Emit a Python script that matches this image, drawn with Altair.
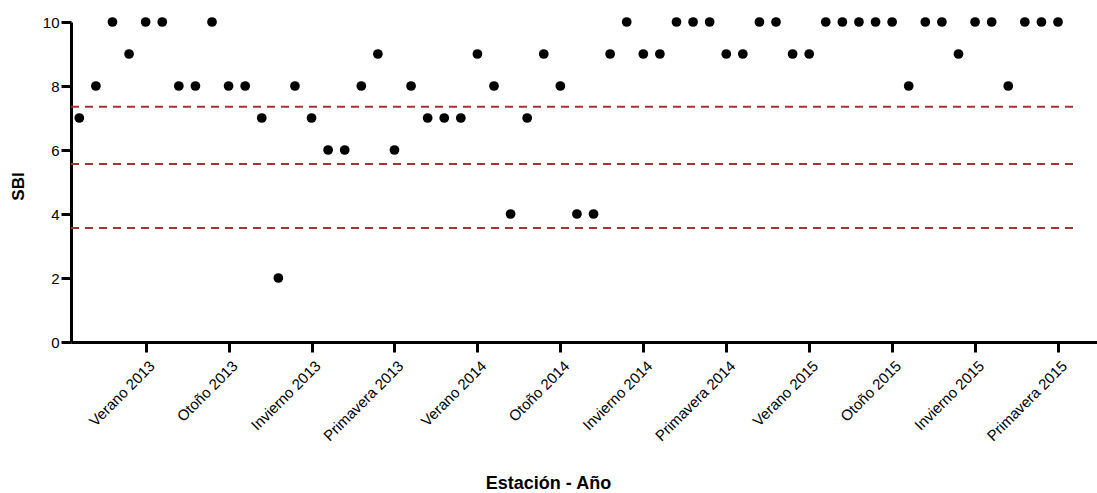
import altair as alt
import pandas as pd

# Data
sbi = [7, 8, 10, 9, 10, 10, 8, 8, 10, 8,
       8, 7, 2, 8, 7, 6, 6, 8, 9, 6,
       8, 7, 7, 7, 9, 8, 4, 7, 9, 8,
       4, 4, 9, 10, 9, 9, 10, 10, 10, 9,
       9, 10, 10, 9, 9, 10, 10, 10, 10, 10,
       8, 10, 10, 9, 10, 10, 8, 10, 10, 10]
sample = list(range(1, len(sbi) + 1))

tick_values = [5, 10, 15, 20, 25, 30, 35, 40, 45, 50, 55, 60]
tick_labels = ["Verano 2013", "Otoño 2013", "Invierno 2013", "Primavera 2013",
               "Verano 2014", "Otoño 2014", "Invierno 2014", "Primavera 2014",
               "Verano 2015", "Otoño 2015", "Invierno 2015", "Primavera 2015"]

ref_levels = [7.35, 5.56, 3.56]
ref_start = [0.5, 0.5, 0.5]
ref_end = [61.15, 61.15, 61.15]

points_df = pd.DataFrame({"sample": sample, "SBI": sbi})
ref_df = pd.DataFrame({"level": ref_levels, "x0": ref_start, "x1": ref_end})

label_expr = "[" + ",".join("'" + l + "'" for l in tick_labels) + "][round(datum.value/5)-1]"

x_scale = alt.Scale(domain=[0.5, 62.35], nice=False, zero=False)
y_scale = alt.Scale(domain=[0, 10], nice=False)

points = alt.Chart(points_df).mark_point(
    filled=True, shape="circle", size=95, color="black", opacity=1
).encode(
    x=alt.X("sample:Q", scale=x_scale,
            axis=alt.Axis(values=tick_values, labelExpr=label_expr,
                          labelAngle=-45, labelAlign="right", labelBaseline="middle",
                          labelPadding=11, labelOffset=6, labelFontSize=15,
                          title="Estación - Año", titleFontSize=18, titleFontWeight="bold",
                          titleX=477, titleY=146, titleAnchor="start", titleAlign="center",
                          titleBaseline="alphabetic", labelOverlap=False, labelBound=False,
                          labelFlush=False)),
    y=alt.Y("SBI:Q", scale=y_scale,
            axis=alt.Axis(values=[0, 2, 4, 6, 8, 10], labelFontSize=15, labelPadding=2,
                          title="SBI", titleFontSize=17, titleFontWeight="bold",
                          titleX=-48, titleY=164, titleAngle=-90, titleAlign="center",
                          titleBaseline="alphabetic")),
)

rules = alt.Chart(ref_df).mark_rule(
    color="#a53333", strokeDash=[8, 6], strokeWidth=2
).encode(
    y=alt.Y("level:Q", scale=y_scale),
    x=alt.X("x0:Q", scale=x_scale),
    x2="x1:Q",
)

chart = alt.layer(rules, points).properties(
    width=1026, height=320,
    autosize=alt.AutoSizeParams(type="none"),
    padding={"left": 71, "top": 22, "right": 0, "bottom": 151},
    background="white",
).configure_view(stroke=None).configure_axis(
    grid=False,
    domainColor="black", domainWidth=3,
    tickColor="black", tickWidth=3, tickSize=10,
    labelColor="black", titleColor="black",
    labelFont="Liberation Sans", titleFont="Liberation Sans",
)

chart.save("out.html", embed_options={"renderer": "svg", "actions": False})
